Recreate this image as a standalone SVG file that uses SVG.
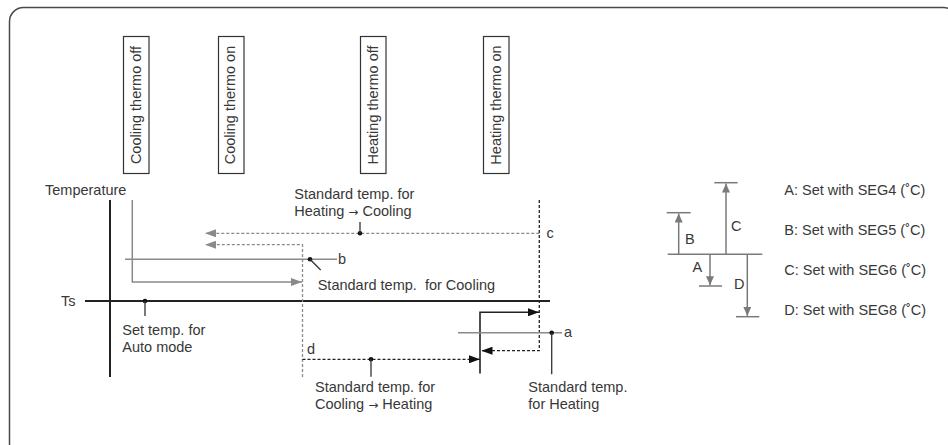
<svg xmlns="http://www.w3.org/2000/svg" width="948" height="445" viewBox="0 0 948 445">
<style>
text{font-family:"Liberation Sans",Arial,sans-serif;font-size:14.5px;fill:#383838}
.arr{font-family:"DejaVu Sans",sans-serif;font-size:12px}
.box{fill:#fff;stroke:#333;stroke-width:1.2}
.axis{stroke:#222;stroke-width:2;fill:none}
.gray{stroke:#8a8a8a;stroke-width:1.5;fill:none}
.gdash{stroke:#8a8a8a;stroke-width:1.3;fill:none;stroke-dasharray:3,2}
.bdash{stroke:#222;stroke-width:1.3;fill:none;stroke-dasharray:3,2}
.blk{stroke:#222;stroke-width:1.6;fill:none}
.lead{stroke:#333;stroke-width:1.3;fill:none}
.dot{fill:#111}
.leg{stroke:#7a7a7a;stroke-width:1.5;fill:none}
</style>
<defs>
<marker id="ag" markerUnits="userSpaceOnUse" markerWidth="11" markerHeight="8" refX="11" refY="4" orient="auto"><path d="M0,0 L11,4 L0,8 z" fill="#8a8a8a"/></marker>
<marker id="ab" markerUnits="userSpaceOnUse" markerWidth="11" markerHeight="8" refX="11" refY="4" orient="auto"><path d="M0,0 L11,4 L0,8 z" fill="#111"/></marker>
<marker id="al" markerUnits="userSpaceOnUse" markerWidth="9" markerHeight="8" refX="9" refY="4" orient="auto"><path d="M0,0 L9,4 L0,8 z" fill="#7a7a7a"/></marker>
</defs>
<rect width="948" height="445" fill="#fff"/>
<rect x="9.5" y="7.5" width="948" height="450" rx="14" fill="none" stroke="#4a4a4a" stroke-width="1.5"/>

<g id="cooling-thermo-off"><rect class="box" x="123.5" y="36.5" width="25.5" height="137"/><text transform="translate(140.5,105) rotate(-90)" text-anchor="middle">Cooling thermo off</text></g>
<g id="cooling-thermo-on"><rect class="box" x="218.5" y="36.5" width="25.5" height="137"/><text transform="translate(235.3,105) rotate(-90)" text-anchor="middle">Cooling thermo on</text></g>
<g id="heating-thermo-off"><rect class="box" x="360.5" y="36.5" width="25.5" height="137"/><text transform="translate(377.5,105) rotate(-90)" text-anchor="middle">Heating thermo off</text></g>
<g id="heating-thermo-on"><rect class="box" x="483.5" y="36.5" width="25.5" height="137"/><text transform="translate(500.5,105) rotate(-90)" text-anchor="middle">Heating thermo on</text></g>

<g id="axes">
<line class="axis" x1="110" y1="200" x2="110" y2="377"/>
<line class="axis" x1="85" y1="301" x2="550" y2="301"/>
<text x="45" y="195">Temperature</text>
<text x="61" y="306">Ts</text>
</g>

<g id="connectors">
<path class="gray" d="M132.3,200 V282 H302" marker-end="url(#ag)"/>
<line class="gray" x1="125" y1="259.3" x2="337" y2="259.3"/>
<path class="gdash" d="M539.3,233.3 H205" marker-end="url(#ag)"/>
<path class="gdash" d="M302.5,377 V244.7 H205" marker-end="url(#ag)"/>
<path class="bdash" d="M539.3,200 V350.7 H481.5" marker-end="url(#ab)"/>
<path class="bdash" d="M302.5,359.3 H480" marker-end="url(#ab)"/>
<path class="blk" d="M480,373.5 V312.3 H539" marker-end="url(#ab)"/>
<line class="gray" x1="458" y1="332.7" x2="562" y2="332.7"/>
</g>

<g id="label-b"><circle class="dot" cx="310" cy="259.3" r="2.3"/><line class="lead" x1="310" y1="259.3" x2="320.7" y2="270"/><text x="338" y="263.5">b</text><text x="317.7" y="289.5" xml:space="preserve">Standard temp.  for Cooling</text></g>
<g id="label-c"><circle class="dot" cx="360" cy="233.3" r="2.3"/><line class="lead" x1="360" y1="233.3" x2="360" y2="222"/><text x="294.3" y="198.5">Standard temp. for</text><text x="294.3" y="215.5">Heating <tspan class="arr">→</tspan> Cooling</text><text x="546.5" y="238">c</text></g>
<g id="label-auto"><circle class="dot" cx="145" cy="301" r="2.3"/><line class="lead" x1="145" y1="301" x2="145" y2="316"/><text x="122.3" y="334.5">Set temp. for</text><text x="122.3" y="351.5">Auto mode</text></g>
<g id="label-d"><text x="307" y="354">d</text><circle class="dot" cx="371" cy="359.3" r="2.3"/><line class="lead" x1="371" y1="359.3" x2="371" y2="376.7"/><text x="315" y="392">Standard temp. for</text><text x="315" y="409">Cooling <tspan class="arr">→</tspan> Heating</text></g>
<g id="label-a"><circle class="dot" cx="551.7" cy="332.7" r="2.3"/><line class="lead" x1="551.7" y1="332.7" x2="551.7" y2="374.3"/><text x="564" y="337">a</text><text x="528.3" y="392">Standard temp.</text><text x="528.3" y="409">for Heating</text></g>

<g id="legend">
<line class="leg" x1="667.7" y1="254.3" x2="762.3" y2="254.3"/>
<line class="leg" x1="666.7" y1="212.7" x2="690.7" y2="212.7"/>
<line class="leg" x1="678.7" y1="254.3" x2="678.7" y2="213.5" marker-end="url(#al)"/>
<line class="leg" x1="714.3" y1="182.7" x2="737.7" y2="182.7"/>
<line class="leg" x1="726" y1="254.3" x2="726" y2="183.5" marker-end="url(#al)"/>
<line class="leg" x1="699" y1="286" x2="722" y2="286"/>
<line class="leg" x1="710" y1="254.3" x2="710" y2="285.2" marker-end="url(#al)"/>
<line class="leg" x1="736" y1="316.7" x2="759.3" y2="316.7"/>
<line class="leg" x1="747.3" y1="254.3" x2="747.3" y2="315.9" marker-end="url(#al)"/>
<text x="731" y="230.5">C</text>
<text x="685" y="243.5">B</text>
<text x="692.5" y="272">A</text>
<text x="734" y="288.5">D</text>
<text x="784.3" y="195">A: Set with SEG4 (˚C)</text>
<text x="784.3" y="234.5">B: Set with SEG5 (˚C)</text>
<text x="784.3" y="274.5">C: Set with SEG6 (˚C)</text>
<text x="784.3" y="314.5">D: Set with SEG8 (˚C)</text>
</g>
</svg>
